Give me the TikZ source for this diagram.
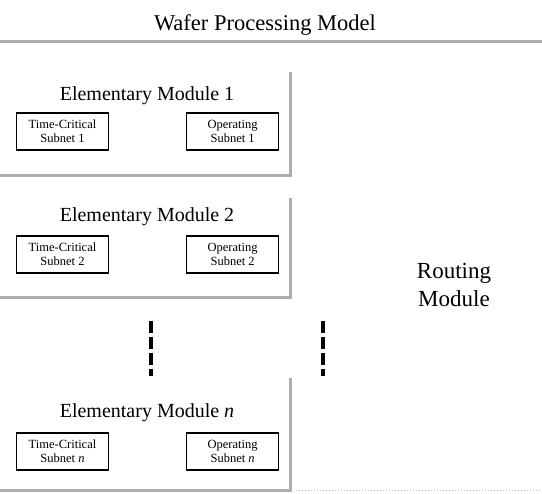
\documentclass[tikz,border=0pt]{standalone}
\usepackage{fontspec}
\setmainfont{Liberation Serif}
\usetikzlibrary{positioning}

\begin{document}
\begin{tikzpicture}[x=1pt, y=-1pt,
        subnet/.style = {draw, line width=1.1pt, minimum width=92pt, minimum height=37pt,
                         inner sep=0pt, align=center, font=\fontsize{12.5}{14}\selectfont},
        modlabel/.style = {anchor=base, font=\fontsize{20}{24}\selectfont},
        frame/.style = {draw=black!32, line width=3pt},
        dots/.style = {line width=3.5pt, dash pattern=on 12pt off 4pt}]
    \useasboundingbox (0,0) rectangle (542,494);
    \node [anchor=base, font=\fontsize{22.5}{26}\selectfont] (title) at (265,31) {Wafer Processing Model};
    \draw[frame] (0,42) -- (542,42);

    % module 1
    \node [modlabel] (m1) at (147,101) {Elementary Module 1};
    \node [subnet] (tc1) at (62.5,131.5) {Time-Critical\\Subnet 1};
    \node [subnet, right=77pt of tc1] (op1) {Operating\\Subnet 1};
    \draw[frame] (0,176) -- (290,176) -- (290,72);

    % module 2
    \node [modlabel] (m2) at (147,222) {Elementary Module 2};
    \node [subnet] (tc2) at (62.5,254.5) {Time-Critical\\Subnet 2};
    \node [subnet, right=77pt of tc2] (op2) {Operating\\Subnet 2};
    \draw[frame] (0,298) -- (290,298) -- (290,198);

    % more modules
    \coordinate (d1a) at (151,321);
    \coordinate (d1b) at (151,376);
    \coordinate (d2a) at (323,321);
    \coordinate (d2b) at (323,376);
    \draw[dots] (d1a) -- (d1b);
    \draw[dots] (d2a) -- (d2b);

    % module n
    \node [modlabel] (mn) at (147,418) {Elementary Module \textit{n}};
    \node [subnet] (tcn) at (62.5,451.5) {Time-Critical\\Subnet \textit{n}};
    \node [subnet, right=77pt of tcn] (opn) {Operating\\Subnet \textit{n}};
    \draw[frame] (0,491) -- (290,491) -- (290,378);

    % routing module
    \node [align=center, font=\fontsize{23}{28}\selectfont] (route) at (454,285) {Routing\\Module};
    \draw[black!25, line width=1pt, dotted] (296,491) -- (542,491);
\end{tikzpicture}
\end{document}
